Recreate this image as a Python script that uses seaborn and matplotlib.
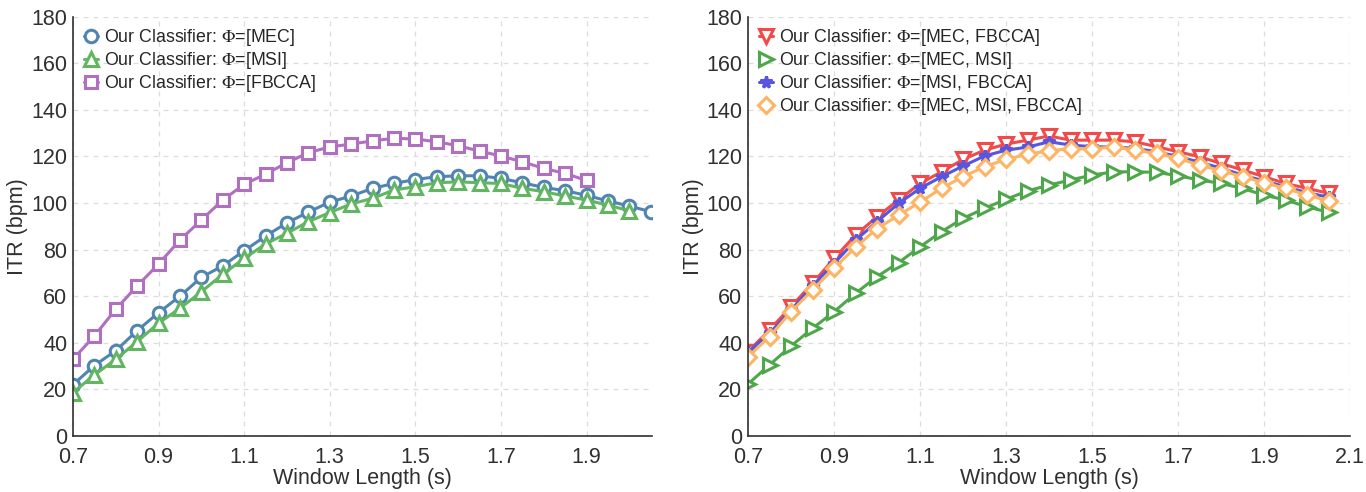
import matplotlib
matplotlib.use("Agg")
import matplotlib.pyplot as plt
import seaborn as sns
import pandas as pd

# window lengths (s)
win_a = [0.7, 0.75, 0.8, 0.85, 0.9, 0.95, 1.0, 1.05, 1.1, 1.15, 1.2, 1.25, 1.3, 1.35, 1.4,
         1.45, 1.5, 1.55, 1.6, 1.65, 1.7, 1.75, 1.8, 1.85, 1.9, 1.95, 2.0, 2.05]

# left panel
itr_mec = [22, 30.2, 36.6, 45.2, 52.9, 60, 68.1, 73, 79.5, 85.8, 91.5, 96.1, 100.4, 103, 106.3,
           108.4, 110.1, 111.3, 111.7, 111.7, 110.6, 108.7, 106.7, 105.3, 103.3, 100.9, 98.7, 96.3]
itr_msi = [18.6, 26.2, 32.9, 40.5, 48.4, 54.8, 61.9, 69.4, 76.2, 82.4, 87, 92, 95.9, 99.6, 102,
           105.6, 107, 108.7, 109.1, 108.7, 108.4, 106.3, 104.9, 103, 101.3, 99.1, 96.7]
itr_fbcca = [32.9, 42.9, 54.4, 64.4, 73.8, 84.1, 92.7, 101.3, 108, 112.4, 117.3, 121.6, 124.1,
             125.3, 126.7, 127.8, 127.5, 126.3, 124.6, 122.3, 120.2, 117.7, 114.9, 112.7, 109.7]

# right panel
itr_mec_fbcca = [36.2, 45.5, 55.5, 65.5, 76.2, 86.2, 94.1, 101.3, 108.4, 113.4, 118.7, 122.7, 125.3,
                 127, 128.8, 127, 127, 127, 126.3, 124.2, 122, 119.9, 117, 114.2, 111.3, 108.4,
                 106.3, 104.2]
itr_mec_msi = [22.3, 30.5, 38.6, 46.2, 53.3, 61.2, 68.4, 74.4, 81.2, 87.7, 93.4, 97.7, 101.6, 105.2,
               107.7, 109.9, 112, 113.4, 113.4, 113.2, 111.7, 109.9, 108.4, 106.3, 103.4, 101.3,
               98.4, 96]
itr_msi_fbcca = [36, 44, 54, 64.5, 74, 84, 92, 99.8, 106.3, 111.3, 115.9, 120.2, 122.7, 124,
                 126.3, 124.9, 124.2, 124, 123.5, 122, 120, 117.5, 115, 112, 109.5, 107, 104.5,
                 102.5]
itr_all = [34, 42.6, 53.3, 62.7, 72, 81, 89, 94.7, 100.4, 106.3, 111.3, 115.6, 118.7, 121, 122.4,
           123.4, 123.2, 124.2, 122.7, 121.3, 119.2, 116.3, 113.9, 111.3, 108.7, 106.3, 103.4,
           100.9]

left_series = [
    (r"Our Classifier: $\Phi$=[MEC]", itr_mec, "o", "#4f85b0"),
    (r"Our Classifier: $\Phi$=[MSI]", itr_msi, "^", "#62b661"),
    (r"Our Classifier: $\Phi$=[FBCCA]", itr_fbcca, "s", "#b06fc0"),
]
right_series = [
    (r"Our Classifier: $\Phi$=[MEC, FBCCA]", itr_mec_fbcca, "v", "#f24a4a"),
    (r"Our Classifier: $\Phi$=[MEC, MSI]", itr_mec_msi, ">", "#4ea74a"),
    (r"Our Classifier: $\Phi$=[MSI, FBCCA]", itr_msi_fbcca, "*", "#5656e0"),
    (r"Our Classifier: $\Phi$=[MEC, MSI, FBCCA]", itr_all, "D", "#fdb564"),
]

sns.set_style("white")
plt.rcParams["font.family"] = ["Liberation Sans", "DejaVu Sans"]
plt.rcParams["mathtext.fontset"] = "stix"

fig = plt.figure(figsize=(13.66, 4.92), dpi=100)
ax1 = fig.add_axes([0.0534, 0.114, 0.4239, 0.852])
ax2 = fig.add_axes([0.5476, 0.114, 0.4407, 0.852])

txt = "#303030"


def draw(ax, series, xmax, xticks):
    for label, vals, mk, col in series:
        df = pd.DataFrame({"w": win_a[:len(vals)], "itr": vals})
        ms = {"o": 9, "s": 8.5, "^": 10, "v": 10, ">": 10, "D": 8, "*": 8.5}[mk]
        sns.lineplot(data=df, x="w", y="itr", ax=ax, color=col, lw=2.2, marker=mk,
                     markersize=ms, markerfacecolor="white" if mk != "*" else col,
                     markeredgecolor=col, markeredgewidth=2.2, label=label)
    ax.set_xlim(0.7, xmax)
    ax.set_ylim(0, 180)
    ax.set_xticks(xticks)
    ax.set_xticklabels([f"{t:.1f}" for t in xticks])
    ax.set_yticks(range(0, 181, 20))
    ax.grid(True, ls=(0, (4, 4)), color="#dcdcdc", lw=0.9)
    for s in ("top", "right"):
        ax.spines[s].set_visible(False)
    for s in ("left", "bottom"):
        ax.spines[s].set_color(txt)
        ax.spines[s].set_linewidth(1.2)
    ax.tick_params(direction="in", length=5, width=1, labelsize=15.5, colors=txt, pad=8)
    ax.tick_params(axis="y", pad=4)
    ax.set_xlabel("Window Length (s)", fontsize=15.5, color=txt, labelpad=0)
    ax.set_ylabel("ITR (bpm)", fontsize=15.5, color=txt, labelpad=2)
    ax.legend(loc="upper left", frameon=False, fontsize=12.8, handlelength=0.8,
              handletextpad=0.35, borderaxespad=0.2, labelspacing=0.1,
              borderpad=0.4)


draw(ax1, left_series, 2.053, [0.7, 0.9, 1.1, 1.3, 1.5, 1.7, 1.9])
draw(ax2, right_series, 2.1, [0.7, 0.9, 1.1, 1.3, 1.5, 1.7, 1.9, 2.1])

fig.savefig("out.png", dpi=100)
